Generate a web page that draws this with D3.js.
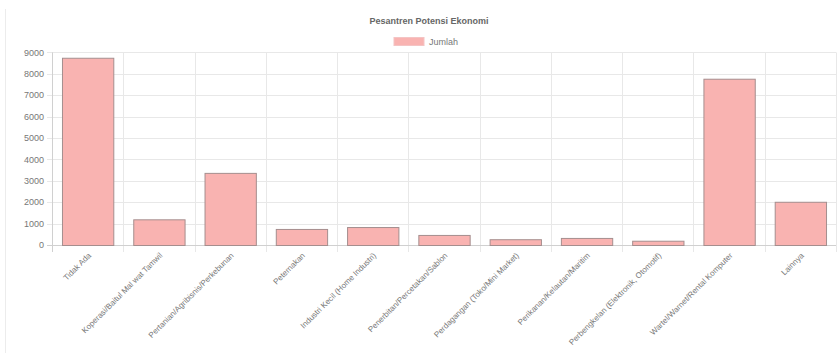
<!DOCTYPE html>
<html>
<head>
<meta charset="utf-8">
<script src="https://cdn.jsdelivr.net/npm/d3@7"></script>
<style>
  body { margin: 0; background: #fff; }
  svg { display: block; font-family: "Liberation Sans", Arial, sans-serif; }
</style>
</head>
<body>
<svg id="chart"></svg>
<script>
// data
const categories = [
  "Tidak Ada",
  "Koperasi/Baitul Mal wat Tamwil",
  "Pertanian/Agribisnis/Perkebunan",
  "Peternakan",
  "Industri Kecil (Home Industri)",
  "Penerbitan/Percetakan/Sablon",
  "Perdagangan (Toko/Mini Market)",
  "Perikanan/Kelautan/Maritim",
  "Perbengkelan (Elektronik, Otomotif)",
  "Wartel/Warnet/Rental Komputer",
  "Lainnya"
];
const jumlah = [8750, 1200, 3370, 750, 840, 470, 270, 330, 200, 7770, 2020];
const yTicks = [0, 1000, 2000, 3000, 4000, 5000, 6000, 7000, 8000, 9000];
const seriesName = "Jumlah";
const title = "Pesantren Potensi Ekonomi";

const width = 837, height = 353;
const plotLeft = 52, plotRight = 836, plotTop = 52.4, plotBottom = 245;

const svg = d3.select("#chart").attr("width", width).attr("height", height);

// thin border line on the left of the card
svg.append("line")
  .attr("x1", 5.5).attr("x2", 5.5).attr("y1", 9).attr("y2", 353)
  .attr("stroke", "#ececec");

const x = d3.scaleBand().domain(categories).range([plotLeft, plotRight])
  .paddingInner(0.28).paddingOuter(0.14);
const xGrid = d3.scaleBand().domain(categories).range([plotLeft, plotRight]);
const y = d3.scaleLinear().domain([0, 9000]).range([plotBottom, plotTop]);

const grid = svg.append("g");
// horizontal grid + left ticks
grid.selectAll(".hg")
  .data(yTicks)
  .enter()
  .append("line")
  .attr("x1", plotLeft - 5).attr("x2", plotRight)
  .attr("y1", d => Math.round(y(d)) + 0.5).attr("y2", d => Math.round(y(d)) + 0.5)
  .attr("stroke", "#e8e8e8");

// vertical grid + bottom ticks
const bounds = categories.map(c => xGrid(c)).concat([plotRight]);
grid.selectAll(".vg")
  .data(bounds.slice(1))
  .enter()
  .append("line")
  .attr("x1", d => Math.round(d) + 0.5).attr("x2", d => Math.round(d) + 0.5)
  .attr("y1", plotTop).attr("y2", plotBottom + 7)
  .attr("stroke", "#e8e8e8");

// axis lines
svg.append("line")
  .attr("x1", plotLeft + 0.5).attr("x2", plotLeft + 0.5).attr("y1", plotTop).attr("y2", plotBottom + 7)
  .attr("stroke", "#d0d0d0");
svg.append("line")
  .attr("x1", plotLeft - 5).attr("x2", plotRight).attr("y1", plotBottom + 0.5).attr("y2", plotBottom + 0.5)
  .attr("stroke", "#d0d0d0");

// y labels
svg.selectAll(".ylab")
  .data(yTicks)
  .enter()
  .append("text")
  .attr("x", plotLeft - 8)
  .attr("y", d => y(d))
  .attr("dy", "0.35em")
  .attr("text-anchor", "end")
  .attr("font-size", 9)
  .attr("fill", "#777")
  .text(d => d);

// bars
svg.selectAll(".bar")
  .data(jumlah)
  .enter()
  .append("rect")
  .attr("x", (d, i) => x(categories[i]) + 0.5)
  .attr("y", d => y(d) + 0.5)
  .attr("width", x.bandwidth())
  .attr("height", d => plotBottom - y(d))
  .attr("fill", "#f9b3b1")
  .attr("stroke", "#a58e8e")
  .attr("stroke-width", 1);

// x labels, rotated
svg.selectAll(".xlab")
  .data(categories)
  .enter()
  .append("text")
  .attr("transform", d => `translate(${x(d) + x.bandwidth() / 2 + 4},${plotBottom + 11}) rotate(-45)`)
  .attr("text-anchor", "end")
  .attr("font-size", 8)
  .attr("fill", "#777")
  .text(d => d);

// title
svg.append("text")
  .attr("x", 429).attr("y", 24)
  .attr("text-anchor", "middle")
  .attr("font-size", 9)
  .attr("font-weight", "bold")
  .attr("fill", "#666")
  .text(title);

// legend
svg.append("rect")
  .attr("x", 394).attr("y", 37.5).attr("width", 30).attr("height", 8)
  .attr("fill", "#f9b3b1").attr("stroke", "#f4c4c4");
svg.append("text")
  .attr("x", 429).attr("y", 45)
  .attr("font-size", 9)
  .attr("fill", "#777")
  .text(seriesName);
</script>
</body>
</html>
